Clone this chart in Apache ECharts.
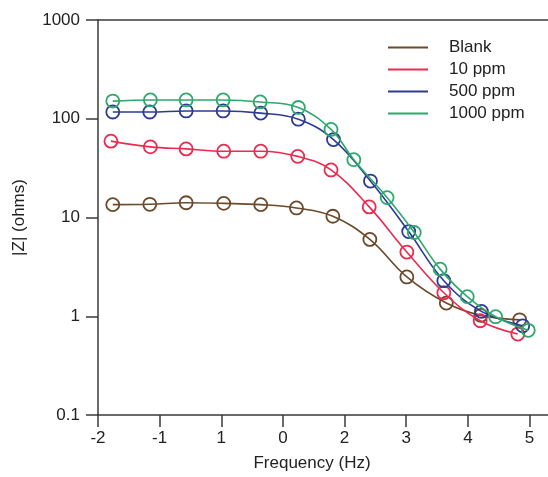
<!DOCTYPE html>
<html>
<head>
<meta charset="utf-8">
<script src="https://cdn.jsdelivr.net/npm/echarts@6/dist/echarts.min.js"></script>
<style>
  html, body { margin: 0; padding: 0; background: #fff; }
  #chart { width: 548px; height: 477px; }
</style>
</head>
<body>
<div id="chart"></div>
<script>
// x ticks, labels as printed in the original figure
const xTicks = [-2, -1, 0, 1, 2, 3, 4, 5]
const xTickLabels = ['-2', '-1', '1', '0', '2', '3', '4', '5']

const names = ['Blank', '10 ppm', '500 ppm', '1000 ppm']
const colors = ['#6b4a2b', '#ec2a50', '#2d3a96', '#2ea86c']

const xBlank = [-1.76, -1.16, -0.57, 0.04, 0.64, 1.22, 1.81, 2.41, 3.01, 3.65, 4.21, 4.84]
const zBlank = [13.5, 13.6, 14.1, 13.9, 13.5, 12.5, 10.3, 6.0, 2.5, 1.36, 1.02, 0.92]

const x10 = [-1.79, -1.15, -0.57, 0.04, 0.64, 1.24, 1.78, 2.40, 3.01, 3.61, 4.20, 4.81]
const z10 = [59.3, 51.9, 49.5, 46.9, 46.9, 41.6, 30.3, 12.8, 4.47, 1.73, 0.90, 0.66]

const x500 = [-1.76, -1.16, -0.57, 0.03, 0.64, 1.25, 1.82, 2.42, 3.04, 3.61, 4.22, 4.89]
const z500 = [117, 117, 120, 120, 114, 99, 61.5, 23.4, 7.2, 2.29, 1.12, 0.80]

const x1000 = [-1.76, -1.15, -0.57, 0.03, 0.63, 1.25, 1.78, 2.15, 2.69, 3.13, 3.55, 3.99, 4.45, 4.98]
const z1000 = [151, 155, 155, 155, 148, 130, 78, 38.5, 15.9, 7.05, 3.0, 1.58, 0.99, 0.72]

const xs = [xBlank, x10, x500, x1000]
const zs = [zBlank, z10, z500, z1000]

function pairs (x, z) {
  let out = []
  for (var i = 0; i < x.length; i++) {
    out.push([x[i], z[i]])
  }
  return out
}

const font = 'Liberation Sans, Arial, sans-serif'
const axisColor = '#3a3a3a'

let myChart = echarts.init(document.getElementById('chart'), null, { renderer: 'canvas' })

myChart.setOption({
  animation: false,
  backgroundColor: '#fff',
  textStyle: { fontFamily: font },
  grid: { left: 98, right: 0, top: 20, bottom: 60, containLabel: false },
  legend: {
    left: 388,
    top: 39,
    padding: 0,
    orient: 'vertical',
    icon: 'rect',
    itemWidth: 40,
    itemHeight: 2,
    itemGap: 5,
    textStyle: { fontFamily: font, fontSize: 17, color: '#222', padding: [0, 0, 0, 16] },
    data: names.map((n, i) => ({ name: n, itemStyle: { color: colors[i], borderWidth: 0 } }))
  },
  xAxis: [{
    type: 'value',
    min: -2,
    max: 5.3,
    interval: 1,
    name: 'Frequency (Hz)',
    nameLocation: 'middle',
    nameGap: 40,
    nameTextStyle: { fontFamily: font, fontSize: 17, color: '#222', padding: [0, 22, 0, 0] },
    splitLine: { show: false },
    axisLine: { onZero: false, lineStyle: { color: axisColor, width: 1.5 } },
    axisTick: { customValues: xTicks, length: 12, lineStyle: { color: axisColor, width: 1.5 } },
    axisLabel: {
      customValues: xTicks,
      margin: 15,
      fontSize: 17,
      color: '#222',
      formatter: v => xTickLabels[xTicks.indexOf(Math.round(v))]
    }
  }, {
    type: 'value',
    position: 'top',
    min: -2,
    max: 5.3,
    splitLine: { show: false },
    axisLine: { onZero: false, lineStyle: { color: axisColor, width: 1.5 } },
    axisTick: { show: false },
    axisLabel: { show: false }
  }],
  yAxis: {
    type: 'log',
    logBase: 10,
    min: 0.1,
    max: 1000,
    name: '|Z| (ohms)',
    nameLocation: 'middle',
    nameGap: 70,
    nameTextStyle: { fontFamily: font, fontSize: 17, color: '#222' },
    splitLine: { show: false },
    minorTick: { show: false },
    axisLine: { show: true, onZero: false, lineStyle: { color: axisColor, width: 1.5 } },
    axisTick: { show: true, length: 12, lineStyle: { color: axisColor, width: 1.5 } },
    axisLabel: {
      margin: 18,
      fontSize: 17,
      color: '#222',
      formatter: v => String(+v.toPrecision(3))
    }
  },
  series: names.map((n, i) => ({
    name: n,
    type: 'line',
    xAxisIndex: 0,
    data: pairs(xs[i], zs[i]),
    smooth: 0.4,
    symbol: 'circle',
    symbolSize: 13,
    color: colors[i],
    lineStyle: { color: colors[i], width: 1.6 },
    itemStyle: { color: 'rgba(255,255,255,0)', borderColor: colors[i], borderWidth: 1.8 },
    z: 2 + i
  }))
})
</script>
</body>
</html>
